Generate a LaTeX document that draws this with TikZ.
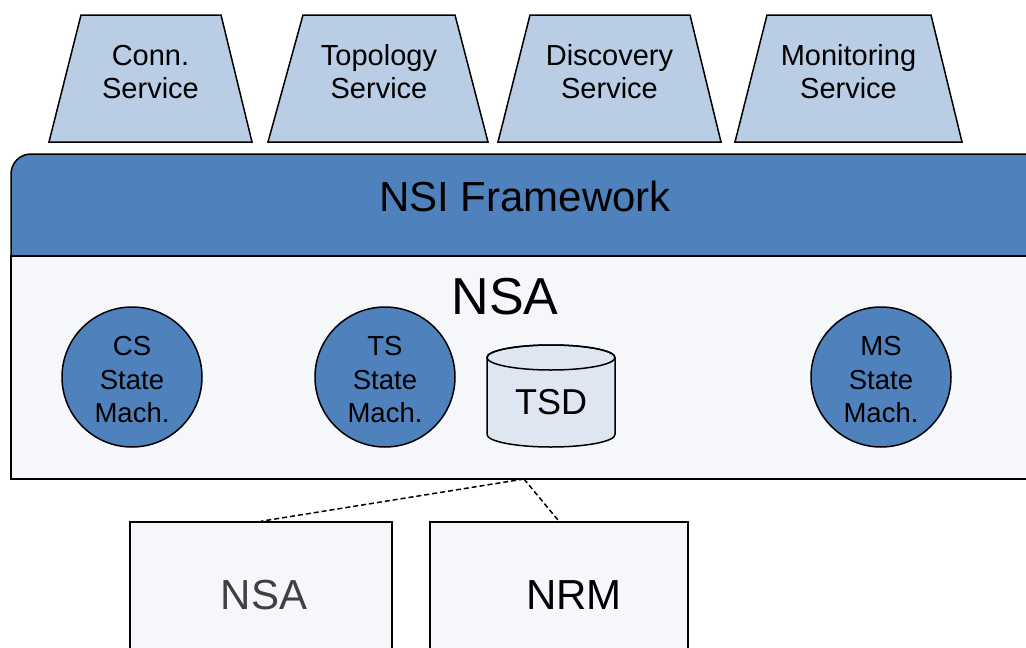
\documentclass[tikz,border=0pt]{standalone}
\usepackage{fontspec}
\setmainfont{Liberation Sans}
\definecolor{trapfill}{HTML}{B9CDE5}
\definecolor{bandblue}{HTML}{4F81BD}
\definecolor{pale}{HTML}{F5F7FB}
\definecolor{cylfill}{HTML}{DDE6F1}
\definecolor{graytext}{HTML}{404040}
\begin{document}
\begin{tikzpicture}[x=1pt,y=-1pt]
\tikzset{
  outline/.style={draw=black, line width=1.5pt, line join=miter},
  svcbox/.style={outline, fill=trapfill},
  svclabel/.style={align=center, inner sep=0pt, font=\fontsize{29}{33}\selectfont},
  smnode/.style={circle, outline, fill=bandblue, minimum size=140pt, inner sep=0pt,
                 align=center, font=\fontsize{27.5}{33.5}\selectfont},
  lowbox/.style={rectangle, outline, fill=pale, minimum height=150pt, inner sep=0pt},
  lowlabel/.style={inner sep=0pt, font=\fontsize{42}{48}\selectfont},
  linkline/.style={draw=black, line width=1.5pt, dash pattern=on 5pt off 3pt}
}
\clip (0,0) rectangle (1026,648);
\fill[white] (0,0) rectangle (1026,648);

% service trapezoids
\filldraw[svcbox] (49,142) -- (81,15) -- (221,15) -- (252,142) -- cycle;
\node[svclabel] (conn) at (150.5,72) {Conn.\\Service};
\filldraw[svcbox] (268,142) -- (303,15) -- (455,15) -- (488,142) -- cycle;
\node[svclabel] (topo) at (379,72) {Topology\\Service};
\filldraw[svcbox] (498,142) -- (530,15) -- (690,15) -- (721,142) -- cycle;
\node[svclabel] (disc) at (609.5,72) {Discovery\\Service};
\filldraw[svcbox] (735,142) -- (767,15) -- (931,15) -- (962,142) -- cycle;
\node[svclabel] (moni) at (848.5,72) {Monitoring\\Service};

% framework band
\filldraw[outline, fill=bandblue] (11,256) [rounded corners=20pt] -- (11,154) [sharp corners] -- (1040,154) -- (1040,256) -- cycle;
\node[inner sep=0pt, font=\fontsize{42}{48}\selectfont] (fw) at (525,196) {NSI Framework};

% NSA region
\filldraw[outline, fill=pale] (11,256) rectangle (1040,479);
\node[inner sep=0pt, font=\fontsize{52}{60}\selectfont] (nsatitle) at (505,297) {NSA};

% state machines
\node[smnode] (csm) at (132,377) {};
\node[align=center, inner sep=0pt, font=\fontsize{27.5}{33.5}\selectfont] (csmtext) at (132,380) {CS\\State\\Mach.};
\node[smnode] (tsm) at (385,377) {};
\node[align=center, inner sep=0pt, font=\fontsize{27.5}{33.5}\selectfont] (tsmtext) at (385,380) {TS\\State\\Mach.};
\node[smnode] (msm) at (881,377) {};
\node[align=center, inner sep=0pt, font=\fontsize{27.5}{33.5}\selectfont] (msmtext) at (881,380) {MS\\State\\Mach.};

% TSD cylinder
\filldraw[outline, fill=cylfill] (487,357.5) -- (487,434.5)
  arc[start angle=180, end angle=0, x radius=64, y radius=12.5]
  -- (615,357.5)
  arc[start angle=0, end angle=-180, x radius=64, y radius=12.5] -- cycle;
\draw[outline] (551,357.5) ellipse[x radius=64, y radius=12.5];
\node[inner sep=0pt, font=\fontsize{36}{42}\selectfont] (tsd) at (551,402) {TSD};

% lower boxes
\node[lowbox, minimum width=262pt] (lownsa) at (261,597) {};
\node[lowlabel, text=graytext] (lownsalabel) at (264,595) {NSA};
\node[lowbox, minimum width=258pt] (nrm) at (559,597) {};
\node[lowlabel] (nrmlabel) at (574,595) {NRM};

% dashed links
\coordinate (apex) at (524,479);
\draw[linkline] (apex) -- (lownsa.north);
\draw[linkline] (apex) -- (nrm.north);
\end{tikzpicture}
\end{document}
